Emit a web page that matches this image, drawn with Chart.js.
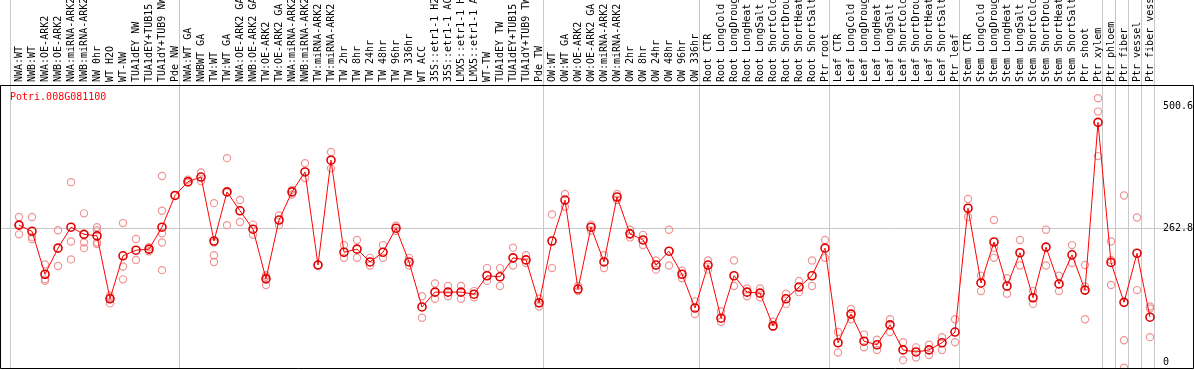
<!DOCTYPE html>
<html><head><meta charset="utf-8">
<script src="https://cdn.jsdelivr.net/npm/chart.js@4.4.1/dist/chart.umd.min.js"></script>
<style>html,body{margin:0;padding:0;background:#fff;overflow:hidden}#wrap{width:1194px;height:370px}</style>
</head><body><div id="wrap"><canvas id="c" width="1194" height="370"></canvas></div>
<script>
const geneName = "Potri.008G081100";

const categories = [
 "NWA:WT","NWB:WT","NWA:OE-ARK2","NWB:OE-ARK2","NWA:miRNA-ARK2","NWB:miRNA-ARK2","NW 0hr","WT H2O","WT-NW","TUA1dEY NW","TUA1dEY+TUB15 NW","TUA1dY+TUB9 NW","Pde NW",
 "NWA:WT GA","NWBWT GA","TW:WT","TW:WT GA","NWA:OE-ARK2 GA","NWB:OE-ARK2 GA","TW:OE-ARK2","TW:OE-ARK2 GA","NWA:miRNA-ARK2","NWB:miRNA-ARK2","TW:miRNA-ARK2","TW:miRNA-ARK2",
 "TW 2hr","TW 8hr","TW 24hr","TW 48hr","TW 96hr","TW 336hr","WT ACC","35S::etr1-1 H2O","35S::etr1-1 ACC","LMX5::etr1-1 H2O","LMX5::etr1-1 ACC","WT-TW","TUA1dEY TW","TUA1dEY+TUB15 TW","TUA1dY+TUB9 TW","Pde TW",
 "OW:WT","OW:WT GA","OW:OE-ARK2","OW:OE-ARK2 GA","OW:miRNA-ARK2","OW:miRNA-ARK2","OW 2hr","OW 8hr","OW 24hr","OW 48hr","OW 96hr","OW 336hr",
 "Root CTR","Root LongCold","Root LongDrought","Root LongHeat","Root LongSalt","Root ShortCold","Root ShortDrought","Root ShortHeat","Root ShortSalt","Ptr root",
 "Leaf CTR","Leaf LongCold","Leaf LongDrought","Leaf LongHeat","Leaf LongSalt","Leaf ShortCold","Leaf ShortDrought","Leaf ShortHeat","Leaf ShortSalt","Ptr leaf",
 "Stem CTR","Stem LongCold","Stem LongDrought","Stem LongHeat","Stem LongSalt","Stem ShortCold","Stem ShortDrought","Stem ShortHeat","Stem ShortSalt","Ptr shoot","Ptr xylem",
 "Ptr phloem","Ptr fiber","Ptr vessel","Ptr fiber vessel"
];

const groupSizes = [13, 28, 12, 10, 10, 11, 1, 1, 1, 1];

const meanValues = [
 269,257,173,224,265,251,248,125,209,220,222,265,327,
 354,363,238,334,297,261,164,279,334,373,191,396,216,222,197,216,263,197,109,138,138,138,134,170,168,205,201,117,
 238,318,144,265,197,324,252,240,191,218,173,107,
 191,87,170,138,136,72,125,148,170,224,
 39,95,42,35,74,25,21,25,39,60,
 302,156,236,150,215,127,226,154,211,142,470,
 196,118,214,89
];

const replicateValues = [
 [285,251,270],[285,242,246],[192,163,160],[259,189],[353,237,202],[292,235,224],[265,259,235,232],[131,116,127],[273,188,163],[242,201],[226,222,218],[365,297,253,235,181],[327],
 [358,352],[372,355],[312,210,197,235],[400,269,333],[318,275],[270,250],[171,152,168],[288,269],[338,329],[390,361],[191],[412,380],
 [230,205],[240,205],[205,190],[230,205],[268,258],[205,190],[130,88],[155,125],[150,130],[150,125],[140,128],[185,160],[185,150],[225,190],[210,195],[125,110],
 [290,185],[330,305],[150,140],[270,258],[210,185],[330,318],[260,245],[250,230],[200,182],[260,190],[180,165],[120,95],
 [200,182],[100,80],[200,150],[145,130],[145,128],[80,70],[135,115],[160,138],[200,150],[240,205],
 [60,20],[105,85],[55,30],[45,25],[85,60],[40,5],[30,10],[35,15],[50,25],[85,40],
 [320,285],[170,140],[279,225,205],[165,135],[240,190],[140,115],[260,190],[170,140],[230,195],[191,149,85],[517,491,404],
 [237,201,152],[327,44,-10],[284,142],[110,106,50]
];

const yTickValues = [0, 262.8, 500.6];
const yGridValue = 262.8;

// geometry of the category axis (13 px per category)
const CAT_PX = 13;
const xMin = -19 / CAT_PX;
const xMax = xMin + 1194 / CAT_PX;
const HEADER_H = 85;

const boundaries = [];
{ let acc = 0; boundaries.push(acc); for (const g of groupSizes) { acc += g; boundaries.push(acc); } }
const boundaryValues = boundaries.map(b => b - 9 / CAT_PX);

const meanPoints = meanValues.map((v, i) => ({x: i, y: v}));
const repPoints = [];
replicateValues.forEach((arr, i) => arr.forEach(v => repPoints.push({x: i, y: v})));

const MONO = "'DejaVu Sans Mono', 'Liberation Mono', monospace";

const framePlugin = {
  id: 'frame',
  afterDraw(chart) {
    const {ctx, chartArea: a} = chart;
    ctx.save();
    ctx.strokeStyle = '#000';
    ctx.lineWidth = 1;
    ctx.beginPath();
    ctx.moveTo(a.left + 0.5, a.top + 0.5);
    ctx.lineTo(a.right - 0.5, a.top + 0.5);
    ctx.lineTo(a.right - 0.5, a.bottom - 0.5);
    ctx.lineTo(a.left + 0.5, a.bottom - 0.5);
    ctx.closePath();
    ctx.stroke();
    ctx.fillStyle = '#ff0000';
    ctx.font = '10px ' + MONO;
    ctx.textBaseline = 'middle';
    ctx.textAlign = 'left';
    ctx.fillText(geneName, a.left + 10, a.top + 12);
    ctx.restore();
  }
};

new Chart(document.getElementById('c'), {
  data: {
    datasets: [
      {
        type: 'line', data: meanPoints, xAxisID: 'x', yAxisID: 'y', order: 0,
        borderColor: '#ff0000', borderWidth: 1, tension: 0,
        pointRadius: 4, pointBorderWidth: 1.6, pointBorderColor: '#e00000',
        pointBackgroundColor: 'rgba(0,0,0,0)'
      },
      {
        type: 'scatter', data: repPoints, xAxisID: 'x', yAxisID: 'y', order: 1,
        showLine: false, pointRadius: 3.6, pointBorderWidth: 1.2,
        pointBorderColor: 'rgba(236,130,130,0.85)', pointBackgroundColor: 'rgba(0,0,0,0)'
      }
    ]
  },
  options: {
    responsive: false, animation: false, devicePixelRatio: 1,
    layout: {autoPadding: false, padding: {left: 0, right: 0, top: 0, bottom: 1}},
    plugins: {legend: {display: false}, tooltip: {enabled: false}, title: {display: false}},
    scales: {
      x: {type: 'linear', display: false, min: xMin, max: xMax},
      xl: {
        type: 'linear', position: 'top', weight: 10, min: xMin, max: xMax,
        afterBuildTicks: s => { s.ticks = categories.map((_, i) => ({value: i})); },
        afterFit: s => { s.height = HEADER_H; s.paddingLeft = 0; s.paddingRight = 0; },
        grid: {display: false, drawTicks: false},
        border: {display: false},
        ticks: {
          autoSkip: false, minRotation: 90, maxRotation: 90, padding: 3, labelOffset: 12,
          color: '#000', font: {family: MONO, size: 10},
          callback: (v) => categories[Math.round(v)]
        }
      },
      xg: {
        type: 'linear', position: 'top', weight: 0, min: xMin, max: xMax,
        afterBuildTicks: s => { s.ticks = boundaryValues.map(v => ({value: v})); },
        afterFit: s => { s.height = 0; s.paddingLeft = 0; s.paddingRight = 0; },
        grid: {color: '#c8c8c8', lineWidth: 1, drawTicks: true, tickLength: HEADER_H, drawOnChartArea: true},
        border: {display: false},
        ticks: {display: false}
      },
      y: {
        type: 'linear', position: 'right', min: -12.3, max: 543,
        afterBuildTicks: s => { s.ticks = yTickValues.map(v => ({value: v})); },
        afterFit: s => { s.width = 0; s.paddingTop = 0; s.paddingBottom = 0; },
        grid: {
          drawTicks: false,
          color: c => (c.tick && c.tick.value === yGridValue) ? '#c8c8c8' : 'rgba(0,0,0,0)'
        },
        border: {display: false},
        ticks: {
          mirror: true, crossAlign: 'far', padding: -1, color: '#000', font: {family: MONO, size: 10},
          callback: v => (v === 0 ? '0' : v.toFixed(1))
        }
      }
    }
  },
  plugins: [framePlugin]
});
</script>
</body></html>
